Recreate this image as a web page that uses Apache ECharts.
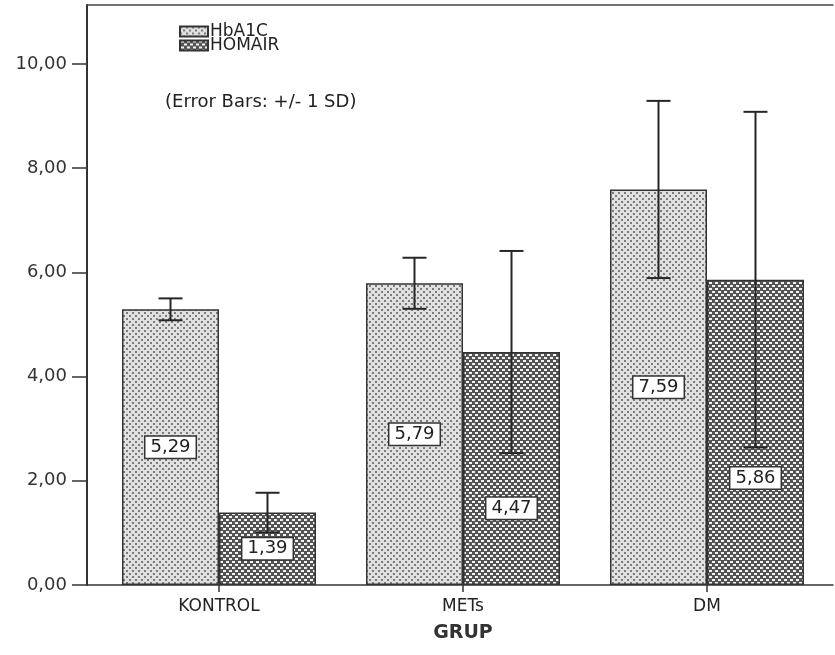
<!DOCTYPE html>
<html>
<head>
<meta charset="utf-8">
<script src="https://cdn.jsdelivr.net/npm/echarts@6/dist/echarts.min.js"></script>
<style>
html,body{margin:0;padding:0;background:#fff;}
#chart{width:835px;height:655px;}
</style>
</head>
<body>
<div id="chart"></div>
<script>
// ---- data ----
const categories = ['KONTROL', 'METs', 'DM'];
const seriesNames = ['HbA1C', 'HOMAIR'];
const hba1cMean = [5.29, 5.79, 7.59];
const homairMean = [1.39, 4.47, 5.86];
const hba1cSD = [0.21, 0.49, 1.70];
const homairSD = [0.38, 1.94, 3.22];
const yTicks = [0, 2, 4, 6, 8, 10];
const yMax = 11.13;

// ---- patterns ----
function makeTile(w, h, bg, fg, pts) {
  const c = document.createElement('canvas');
  c.width = w; c.height = h;
  const g = c.getContext('2d');
  g.fillStyle = bg; g.fillRect(0, 0, w, h);
  g.fillStyle = fg;
  pts.forEach(p => g.fillRect(p[0], p[1], p[2], p[3]));
  return c;
}
const dotTile = makeTile(6, 6, '#e0e0e0', '#7c7c7c', [[0,0,2,2],[3,3,2,2]]);
const hatchTile = makeTile(6, 6, '#545454', '#f2f2f2', [[1,0,3,2],[4,3,2,2],[0,3,1,2]]);
const dotFill = { image: dotTile, repeat: 'repeat' };
const hatchFill = { image: hatchTile, repeat: 'repeat' };

const FONT = 'DejaVu Sans';
const CAT_GAP = 0.205;

function fmt(v) { return v.toFixed(2).replace('.', ','); }

function errRenderer(sign) {
  return function (params, api) {
    const c = api.value(0), m = api.value(1), s = api.value(2);
    const band = api.size([1, 0])[0];
    const off = sign * band * (1 - CAT_GAP) / 4;
    const top = api.coord([c, m + s]);
    const bot = api.coord([c, m - s]);
    const x = top[0] + off;
    const hw = 12;
    const st = { stroke: '#262626', lineWidth: 2 };
    return {
      type: 'group',
      children: [
        { type: 'line', shape: { x1: x, y1: top[1], x2: x, y2: bot[1] }, style: st },
        { type: 'line', shape: { x1: x - hw, y1: top[1], x2: x + hw, y2: top[1] }, style: st },
        { type: 'line', shape: { x1: x - hw, y1: bot[1], x2: x + hw, y2: bot[1] }, style: st }
      ]
    };
  };
}

const labelStyle = {
  show: true,
  position: 'inside',
  formatter: p => fmt(p.value),
  fontFamily: FONT,
  fontSize: 18,
  color: '#222',
  backgroundColor: '#fff',
  borderColor: '#333',
  borderWidth: 1.5,
  padding: [2, 5, 1, 5]
};

// label placements that SPSS shifted below the error bar (style only)
const homairLabelPos = [null, ['50%', '67%'], ['50%', '65%']];

const chart = echarts.init(document.getElementById('chart'), null, { renderer: 'canvas' });
chart.setOption({
  backgroundColor: '#fff',
  animation: false,
  title: {
    text: '(Error Bars: +/- 1 SD)',
    left: 160, top: 88,
    textStyle: { fontFamily: FONT, fontSize: 18, fontWeight: 'normal', color: '#222' }
  },
  legend: {
    orient: 'vertical',
    left: 174, top: 18,
    itemWidth: 28, itemHeight: 10, itemGap: -3,
    icon: 'rect',
    data: seriesNames,
    textStyle: { fontFamily: FONT, fontSize: 17, color: '#222', padding: [0, 0, 0, -3] }
  },
  grid: [
    { left: 97, right: 6, top: 5, bottom: 70 },
    { left: 87, right: 2, top: 5, bottom: 70 }
  ],
  xAxis: [
    {
      type: 'category', gridIndex: 0, data: categories,
      axisLine: { show: false },
      axisTick: { show: true, alignWithLabel: true, length: 7, lineStyle: { color: '#333', width: 1.5 } },
      axisLabel: { fontFamily: FONT, fontSize: 17, color: '#222', margin: 13 },
      name: 'GRUP', nameLocation: 'middle', nameGap: 39,
      nameTextStyle: { fontFamily: FONT, fontSize: 19, fontWeight: 'bold', color: '#333' }
    },
    {
      type: 'value', gridIndex: 1, position: 'bottom', min: 0, max: 1,
      axisLine: { show: true, lineStyle: { color: '#333', width: 1.5 } },
      axisTick: { show: false }, axisLabel: { show: false }, splitLine: { show: false }
    },
    {
      type: 'value', gridIndex: 1, position: 'top', min: 0, max: 1,
      axisLine: { show: true, lineStyle: { color: '#444', width: 1.5 } },
      axisTick: { show: false }, axisLabel: { show: false }, splitLine: { show: false }
    }
  ],
  yAxis: [
    { type: 'value', gridIndex: 0, min: 0, max: yMax, show: false, splitLine: { show: false } },
    {
      type: 'value', gridIndex: 1, min: 0, max: yMax,
      axisLine: { show: true, lineStyle: { color: '#333', width: 2 } },
      axisTick: { show: true, length: 15, customValues: yTicks, lineStyle: { color: '#333', width: 1.5 } },
      axisLabel: {
        customValues: yTicks, formatter: v => fmt(v), margin: 20,
        fontFamily: FONT, fontSize: 18, color: '#333'
      },
      splitLine: { show: false }
    }
  ],
  series: [
    {
      name: seriesNames[0], type: 'bar', xAxisIndex: 0, yAxisIndex: 0,
      data: hba1cMean,
      barGap: '0%', barCategoryGap: (CAT_GAP * 100) + '%',
      itemStyle: { color: dotFill, borderColor: '#333', borderWidth: 1.5 },
      label: labelStyle, z: 2
    },
    {
      name: seriesNames[1], type: 'bar', xAxisIndex: 0, yAxisIndex: 0,
      data: homairMean.map((v, i) => homairLabelPos[i]
        ? { value: v, label: { position: homairLabelPos[i], align: 'center', verticalAlign: 'middle' } }
        : v),
      barGap: '0%', barCategoryGap: (CAT_GAP * 100) + '%',
      itemStyle: { color: hatchFill, borderColor: '#333', borderWidth: 1.5 },
      label: labelStyle, z: 2
    },
    {
      type: 'custom', name: 'err1', xAxisIndex: 0, yAxisIndex: 0,
      renderItem: errRenderer(-1),
      encode: { x: 0, y: 1 },
      data: categories.map((c, i) => [i, hba1cMean[i], hba1cSD[i]]),
      z: 3, silent: true
    },
    {
      type: 'custom', name: 'err2', xAxisIndex: 0, yAxisIndex: 0,
      renderItem: errRenderer(1),
      encode: { x: 0, y: 1 },
      data: categories.map((c, i) => [i, homairMean[i], homairSD[i]]),
      z: 3, silent: true
    }
  ]
});
</script>
</body>
</html>
